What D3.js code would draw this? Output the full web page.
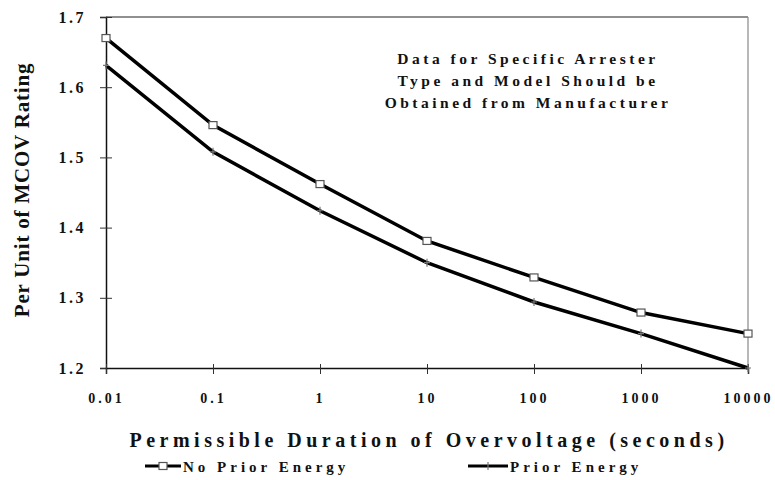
<!DOCTYPE html>
<html>
<head>
<meta charset="utf-8">
<script src="https://cdn.jsdelivr.net/npm/d3@7"></script>
<style>
  body { margin: 0; background: #fff; }
  text { font-family: "Liberation Serif", "DejaVu Serif", serif; font-weight: bold; fill: #111; }
</style>
</head>
<body>
<div id="chart"></div>
<script>
// values
const durations = [0.01, 0.1, 1, 10, 100, 1000, 10000];
const noPriorEnergy = [1.670, 1.546, 1.462, 1.381, 1.329, 1.279, 1.249];
const priorEnergy = [1.631, 1.508, 1.424, 1.350, 1.294, 1.249, 1.200];
const xTickLabels = ["0.01", "0.1", "1", "10", "100", "1000", "10000"];
const yTicks = [1.2, 1.3, 1.4, 1.5, 1.6, 1.7];
const noteLines = ["Data for Specific Arrester", "Type and Model Should be", "Obtained from Manufacturer"];

const margin = { top: 17, right: 27, bottom: 112, left: 106 };
const W = 775, H = 480;
const width = W - margin.left - margin.right;
const height = H - margin.top - margin.bottom;

const svg = d3.select("#chart").append("svg")
              .attr("width", W)
              .attr("height", H);

const g = svg.append("g")
             .attr("transform", `translate(${margin.left}, ${margin.top})`);

const xScale = d3.scaleLog().domain([0.01, 10000]).range([0, width]);
const yScale = d3.scaleLinear().domain([1.2, 1.7]).range([height, 0]);

// frame
g.append("line").attr("x1", 0).attr("x2", width).attr("y1", 0).attr("y2", 0)
 .attr("stroke", "#222").attr("stroke-width", 1.2);
g.append("line").attr("x1", width).attr("x2", width).attr("y1", 0).attr("y2", height)
 .attr("stroke", "#888").attr("stroke-width", 1.2);

// axes (ticks cross the axis line)
const yAxis = g.append("g")
               .call(d3.axisLeft(yScale).tickValues(yTicks).tickFormat(d3.format(".1f"))
                       .tickSize(6).tickPadding(14));
yAxis.select(".domain").attr("stroke", "#111").attr("stroke-width", 1.5);
yAxis.selectAll(".tick line").attr("x2", 6).attr("x1", -6).attr("stroke", "#333");
yAxis.selectAll(".tick text")
     .style("font-size", "16px").style("letter-spacing", "2.5px")
     .attr("font-family", null);

const xAxis = g.append("g")
               .attr("transform", `translate(0, ${height})`)
               .call(d3.axisBottom(xScale).tickValues(durations)
                       .tickFormat((d, i) => xTickLabels[i])
                       .tickSize(6).tickPadding(19));
xAxis.select(".domain").attr("stroke", "#111").attr("stroke-width", 1.5);
xAxis.selectAll(".tick line").attr("y1", -4).attr("y2", 6).attr("stroke", "#333");
xAxis.selectAll(".tick text")
     .style("font-size", "14px").style("letter-spacing", "3px")
     .attr("font-family", null);

// lines
const line = d3.line()
               .x((d, i) => xScale(durations[i]))
               .y(d => yScale(d));

g.append("path").datum(noPriorEnergy)
 .attr("d", line).attr("fill", "none")
 .attr("stroke", "#000").attr("stroke-width", 3.5);
g.append("path").datum(priorEnergy)
 .attr("d", line).attr("fill", "none")
 .attr("stroke", "#000").attr("stroke-width", 3.5);

// markers
g.selectAll("rect.np").data(noPriorEnergy).enter()
 .append("rect").attr("class", "np")
 .attr("x", (d, i) => xScale(durations[i]) - 4)
 .attr("y", d => yScale(d) - 3.5)
 .attr("width", 8).attr("height", 7)
 .attr("fill", "#fff").attr("stroke", "#555").attr("stroke-width", 1.2);

g.selectAll("path.pe").data(priorEnergy).enter()
 .append("path").attr("class", "pe")
 .attr("transform", (d, i) => `translate(${xScale(durations[i])}, ${yScale(d)})`)
 .attr("d", "M0,-4V4M-3,0H3")
 .attr("stroke", "#777").attr("stroke-width", 1.2);

// note
const note = g.append("text")
              .attr("text-anchor", "middle")
              .style("font-size", "15.5px")
              .style("letter-spacing", "3.5px");
noteLines.forEach((t, i) => {
    note.append("tspan")
        .attr("x", 422)
        .attr("y", 47 + i * 22)
        .text(t);
});

// axis titles
svg.append("text")
   .attr("x", margin.left + width / 2 + 2)
   .attr("y", 447)
   .attr("text-anchor", "middle")
   .style("font-size", "20px")
   .style("letter-spacing", "4.5px")
   .text("Permissible Duration of Overvoltage (seconds)");

svg.append("text")
   .attr("transform", "translate(29, 190) rotate(-90)")
   .attr("text-anchor", "middle")
   .style("font-size", "21px")
   .style("letter-spacing", "0.8px")
   .text("Per Unit of MCOV Rating");

// legend
const legend = svg.append("g").attr("transform", "translate(0, 466)");
const legendItems = [
    { label: "No Prior Energy", x0: 145, x1: 181, square: true },
    { label: "Prior Energy", x0: 468, x1: 508, square: false }
];
legendItems.forEach(item => {
    legend.append("line")
          .attr("x1", item.x0).attr("x2", item.x1)
          .attr("y1", 0).attr("y2", 0)
          .attr("stroke", "#000").attr("stroke-width", 3);
    const cx = (item.x0 + item.x1) / 2;
    if (item.square) {
        legend.append("rect")
              .attr("x", cx - 4).attr("y", -3.5)
              .attr("width", 8).attr("height", 7)
              .attr("fill", "#fff").attr("stroke", "#555").attr("stroke-width", 1.2);
    } else {
        legend.append("path")
              .attr("d", `M${cx},-4V4`)
              .attr("stroke", "#777").attr("stroke-width", 1.2);
    }
    legend.append("text")
          .attr("x", item.x1 + 2)
          .attr("y", 5.5)
          .style("font-size", "15px")
          .style("letter-spacing", "4px")
          .text(item.label);
});
</script>
</body>
</html>
